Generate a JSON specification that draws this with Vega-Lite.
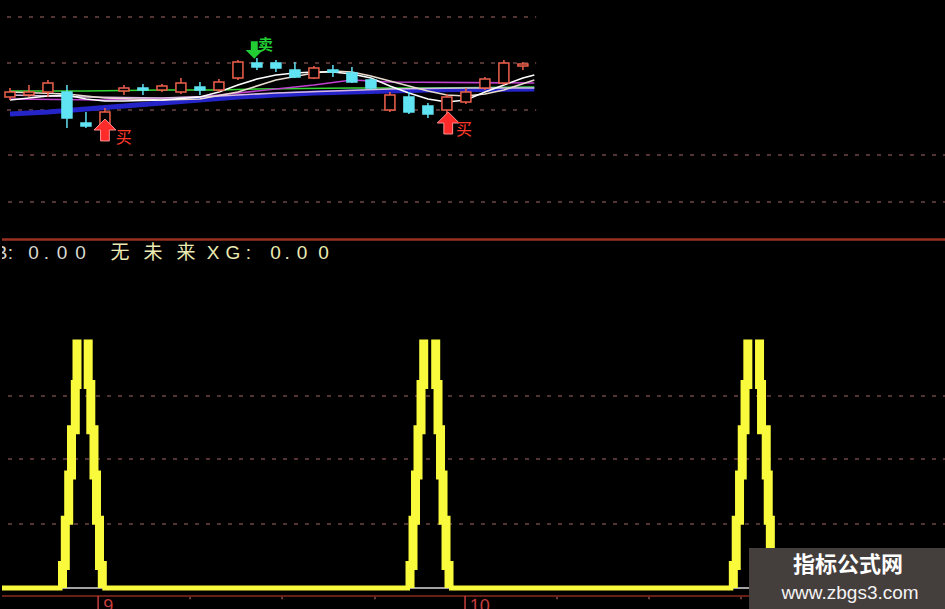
{
  "$schema": "https://vega.github.io/schema/vega-lite/v6.json",
  "background": "#000000",
  "padding": 0,
  "spacing": 0,
  "config": {"view": {"stroke": null}},
  "datasets": {
    "k": [
      {"d": 0, "o": 9.43, "h": 9.52, "l": 9.40, "c": 9.48},
      {"d": 1, "o": 9.45, "h": 9.55, "l": 9.43, "c": 9.48},
      {"d": 2, "o": 9.48, "h": 9.60, "l": 9.43, "c": 9.57},
      {"d": 3, "o": 9.48, "h": 9.55, "l": 9.12, "c": 9.22},
      {"d": 4, "o": 9.17, "h": 9.28, "l": 9.12, "c": 9.14},
      {"d": 5, "o": 9.12, "h": 9.32, "l": 9.10, "c": 9.28},
      {"d": 6, "o": 9.49, "h": 9.55, "l": 9.45, "c": 9.52},
      {"d": 7, "o": 9.52, "h": 9.56, "l": 9.45, "c": 9.50},
      {"d": 8, "o": 9.50, "h": 9.56, "l": 9.48, "c": 9.54},
      {"d": 9, "o": 9.48, "h": 9.62, "l": 9.46, "c": 9.57},
      {"d": 10, "o": 9.53, "h": 9.58, "l": 9.45, "c": 9.50},
      {"d": 11, "o": 9.50, "h": 9.61, "l": 9.48, "c": 9.58},
      {"d": 12, "o": 9.62, "h": 9.80, "l": 9.60, "c": 9.78},
      {"d": 13, "o": 9.77, "h": 9.82, "l": 9.70, "c": 9.73},
      {"d": 14, "o": 9.77, "h": 9.80, "l": 9.68, "c": 9.72},
      {"d": 15, "o": 9.70, "h": 9.78, "l": 9.62, "c": 9.63},
      {"d": 16, "o": 9.62, "h": 9.74, "l": 9.61, "c": 9.72},
      {"d": 17, "o": 9.70, "h": 9.75, "l": 9.63, "c": 9.68},
      {"d": 18, "o": 9.67, "h": 9.73, "l": 9.57, "c": 9.58},
      {"d": 19, "o": 9.60, "h": 9.62, "l": 9.50, "c": 9.52},
      {"d": 20, "o": 9.30, "h": 9.48, "l": 9.28, "c": 9.45},
      {"d": 21, "o": 9.43, "h": 9.48, "l": 9.26, "c": 9.28},
      {"d": 22, "o": 9.34, "h": 9.37, "l": 9.22, "c": 9.26},
      {"d": 23, "o": 9.30, "h": 9.46, "l": 9.25, "c": 9.43},
      {"d": 24, "o": 9.38, "h": 9.52, "l": 9.36, "c": 9.48},
      {"d": 25, "o": 9.52, "h": 9.63, "l": 9.50, "c": 9.61},
      {"d": 26, "o": 9.57, "h": 9.80, "l": 9.55, "c": 9.77},
      {"d": 27, "o": 9.74, "h": 9.78, "l": 9.70, "c": 9.76}
    ],
    "ma": [
      {"m": "blue", "d": 0, "p": 9.26}, {"m": "blue", "d": 2, "p": 9.28}, {"m": "blue", "d": 4, "p": 9.31},
      {"m": "blue", "d": 6, "p": 9.34}, {"m": "blue", "d": 8, "p": 9.37}, {"m": "blue", "d": 10, "p": 9.40},
      {"m": "blue", "d": 12, "p": 9.43}, {"m": "blue", "d": 14, "p": 9.45}, {"m": "blue", "d": 16, "p": 9.47},
      {"m": "blue", "d": 18, "p": 9.48}, {"m": "blue", "d": 20, "p": 9.49}, {"m": "blue", "d": 22, "p": 9.50},
      {"m": "blue", "d": 24, "p": 9.505}, {"m": "blue", "d": 27.6, "p": 9.51},
      {"m": "green", "d": 0, "p": 9.49}, {"m": "green", "d": 4, "p": 9.49}, {"m": "green", "d": 8, "p": 9.50},
      {"m": "green", "d": 11, "p": 9.50}, {"m": "green", "d": 13, "p": 9.51}, {"m": "green", "d": 18, "p": 9.52},
      {"m": "green", "d": 22, "p": 9.52}, {"m": "green", "d": 27.6, "p": 9.53},
      {"m": "magenta", "d": 0, "p": 9.41}, {"m": "magenta", "d": 5, "p": 9.40}, {"m": "magenta", "d": 10, "p": 9.43},
      {"m": "magenta", "d": 13, "p": 9.49}, {"m": "magenta", "d": 16, "p": 9.55}, {"m": "magenta", "d": 18, "p": 9.60},
      {"m": "magenta", "d": 20, "p": 9.58}, {"m": "magenta", "d": 27.6, "p": 9.57},
      {"m": "pink", "d": 0, "p": 9.45}, {"m": "pink", "d": 4, "p": 9.43}, {"m": "pink", "d": 8, "p": 9.42},
      {"m": "pink", "d": 11, "p": 9.44}, {"m": "pink", "d": 14, "p": 9.47}, {"m": "pink", "d": 17, "p": 9.49},
      {"m": "pink", "d": 20, "p": 9.51}, {"m": "pink", "d": 24, "p": 9.52}, {"m": "pink", "d": 27.6, "p": 9.52},
      {"m": "ma10", "d": 0, "p": 9.48}, {"m": "ma10", "d": 3, "p": 9.46}, {"m": "ma10", "d": 5, "p": 9.42},
      {"m": "ma10", "d": 8, "p": 9.40}, {"m": "ma10", "d": 10, "p": 9.41}, {"m": "ma10", "d": 12, "p": 9.48},
      {"m": "ma10", "d": 14, "p": 9.60}, {"m": "ma10", "d": 16, "p": 9.67}, {"m": "ma10", "d": 17, "p": 9.69},
      {"m": "ma10", "d": 18, "p": 9.68}, {"m": "ma10", "d": 19, "p": 9.64}, {"m": "ma10", "d": 20, "p": 9.59},
      {"m": "ma10", "d": 21, "p": 9.54}, {"m": "ma10", "d": 22, "p": 9.49}, {"m": "ma10", "d": 23, "p": 9.45},
      {"m": "ma10", "d": 24, "p": 9.44}, {"m": "ma10", "d": 25, "p": 9.46}, {"m": "ma10", "d": 26, "p": 9.50},
      {"m": "ma10", "d": 27.6, "p": 9.60},
      {"m": "ma5", "d": 0, "p": 9.40}, {"m": "ma5", "d": 2, "p": 9.44}, {"m": "ma5", "d": 3, "p": 9.45},
      {"m": "ma5", "d": 4, "p": 9.41}, {"m": "ma5", "d": 5, "p": 9.39}, {"m": "ma5", "d": 6, "p": 9.39},
      {"m": "ma5", "d": 8, "p": 9.40}, {"m": "ma5", "d": 10, "p": 9.43}, {"m": "ma5", "d": 11, "p": 9.48},
      {"m": "ma5", "d": 12, "p": 9.55}, {"m": "ma5", "d": 13, "p": 9.61}, {"m": "ma5", "d": 14, "p": 9.65},
      {"m": "ma5", "d": 15, "p": 9.67}, {"m": "ma5", "d": 16, "p": 9.68}, {"m": "ma5", "d": 17, "p": 9.68},
      {"m": "ma5", "d": 18, "p": 9.66}, {"m": "ma5", "d": 19, "p": 9.62}, {"m": "ma5", "d": 20, "p": 9.54},
      {"m": "ma5", "d": 21, "p": 9.47}, {"m": "ma5", "d": 22, "p": 9.41}, {"m": "ma5", "d": 23, "p": 9.38},
      {"m": "ma5", "d": 24, "p": 9.40}, {"m": "ma5", "d": 25, "p": 9.48}, {"m": "ma5", "d": 26, "p": 9.55},
      {"m": "ma5", "d": 27, "p": 9.62}, {"m": "ma5", "d": 27.6, "p": 9.65}
    ],
    "spikes": [
      {"sid": "1L", "k": 0, "d": 2.995, "v": 0}, {"sid": "1L", "k": 1, "d": 3.141, "v": 1}, {"sid": "1L", "k": 2, "d": 3.318, "v": 3},
      {"sid": "1L", "k": 3, "d": 3.464, "v": 5}, {"sid": "1L", "k": 4, "d": 3.661, "v": 7}, {"sid": "1L", "k": 5, "d": 3.75, "v": 9},
      {"sid": "1L", "k": 6, "d": 3.75, "v": 11},
      {"sid": "1R", "k": 0, "d": 4.333, "v": 11}, {"sid": "1R", "k": 1, "d": 4.469, "v": 9}, {"sid": "1R", "k": 2, "d": 4.635, "v": 7},
      {"sid": "1R", "k": 3, "d": 4.766, "v": 5}, {"sid": "1R", "k": 4, "d": 4.922, "v": 3}, {"sid": "1R", "k": 5, "d": 5.068, "v": 1},
      {"sid": "1R", "k": 6, "d": 5.068, "v": 0},
      {"sid": "2L", "k": 0, "d": 21.094, "v": 0}, {"sid": "2L", "k": 1, "d": 21.25, "v": 1}, {"sid": "2L", "k": 2, "d": 21.38, "v": 3},
      {"sid": "2L", "k": 3, "d": 21.51, "v": 5}, {"sid": "2L", "k": 4, "d": 21.667, "v": 7}, {"sid": "2L", "k": 5, "d": 21.807, "v": 9},
      {"sid": "2L", "k": 6, "d": 21.807, "v": 11},
      {"sid": "2R", "k": 0, "d": 22.432, "v": 11}, {"sid": "2R", "k": 1, "d": 22.552, "v": 9}, {"sid": "2R", "k": 2, "d": 22.682, "v": 7},
      {"sid": "2R", "k": 3, "d": 22.813, "v": 5}, {"sid": "2R", "k": 4, "d": 22.969, "v": 3}, {"sid": "2R", "k": 5, "d": 23.125, "v": 1},
      {"sid": "2R", "k": 6, "d": 23.125, "v": 0},
      {"sid": "3L", "k": 0, "d": 37.932, "v": 0}, {"sid": "3L", "k": 1, "d": 38.083, "v": 1}, {"sid": "3L", "k": 2, "d": 38.255, "v": 3},
      {"sid": "3L", "k": 3, "d": 38.396, "v": 5}, {"sid": "3L", "k": 4, "d": 38.542, "v": 7}, {"sid": "3L", "k": 5, "d": 38.688, "v": 9},
      {"sid": "3L", "k": 6, "d": 38.688, "v": 11},
      {"sid": "3R", "k": 0, "d": 39.297, "v": 11}, {"sid": "3R", "k": 1, "d": 39.401, "v": 9}, {"sid": "3R", "k": 2, "d": 39.646, "v": 7},
      {"sid": "3R", "k": 3, "d": 39.75, "v": 5}, {"sid": "3R", "k": 4, "d": 39.859, "v": 3}, {"sid": "3R", "k": 5, "d": 40.0, "v": 1},
      {"sid": "3R", "k": 6, "d": 40.0, "v": 0}
    ],
    "hdr": [
      {"g": 1, "d": -0.208, "ch": "B"}, {"g": 1, "d": 0.286, "ch": ":"},
      {"g": 1, "d": 1.484, "ch": "0"}, {"g": 1, "d": 2.161, "ch": "."}, {"g": 1, "d": 2.969, "ch": "0"}, {"g": 1, "d": 3.932, "ch": "0"},
      {"g": 2, "d": 5.99, "ch": "无"}, {"g": 2, "d": 7.708, "ch": "未"}, {"g": 2, "d": 9.427, "ch": "来"},
      {"g": 2, "d": 10.833, "ch": "X"}, {"g": 2, "d": 11.875, "ch": "G"}, {"g": 2, "d": 12.682, "ch": ":"},
      {"g": 2, "d": 14.089, "ch": "0"}, {"g": 2, "d": 14.688, "ch": "."}, {"g": 2, "d": 15.469, "ch": "0"}, {"g": 2, "d": 16.589, "ch": "0"}
    ]
  },
  "vconcat": [
    {
      "width": 945,
      "height": 240,
      "layer": [
        {
          "data": {"values": [{"p": 10.23}, {"p": 9.77}, {"p": 9.30}]},
          "mark": {"type": "rule", "color": "#6e4646", "strokeWidth": 1.5, "strokeDash": [4, 7]},
          "encoding": {
            "y": {"field": "p", "type": "quantitative", "scale": {"domain": [8.0, 10.4], "nice": false, "zero": false}, "axis": null},
            "x": {"datum": -0.156, "type": "quantitative", "scale": {"domain": [-0.156, 49.06], "nice": false, "zero": false}, "axis": null},
            "x2": {"datum": 27.7}
          }
        },
        {
          "data": {"values": [{"p": 8.85}, {"p": 8.38}]},
          "mark": {"type": "rule", "color": "#6e4646", "strokeWidth": 1.5, "strokeDash": [4, 7]},
          "encoding": {
            "y": {"field": "p", "type": "quantitative", "scale": {"domain": [8.0, 10.4], "nice": false, "zero": false}, "axis": null}
          }
        },
        {
          "data": {"name": "ma"},
          "transform": [{"filter": "datum.m == 'blue'"}],
          "mark": {"type": "line", "color": "#2424c8", "strokeWidth": 5, "clip": true},
          "encoding": {
            "x": {"field": "d", "type": "quantitative", "scale": {"domain": [-0.156, 49.06], "nice": false, "zero": false}, "axis": null},
            "y": {"field": "p", "type": "quantitative", "scale": {"domain": [8.0, 10.4], "nice": false, "zero": false}, "axis": null}
          }
        },
        {
          "data": {"name": "ma"},
          "transform": [{"filter": "datum.m != 'blue'"}],
          "mark": {"type": "line", "strokeWidth": 1.6, "clip": true},
          "encoding": {
            "x": {"field": "d", "type": "quantitative", "scale": {"domain": [-0.156, 49.06], "nice": false, "zero": false}, "axis": null},
            "y": {"field": "p", "type": "quantitative", "scale": {"domain": [8.0, 10.4], "nice": false, "zero": false}, "axis": null},
            "color": {"field": "m", "type": "nominal", "legend": null,
              "scale": {"domain": ["green", "magenta", "pink", "ma10", "ma5"], "range": ["#34d834", "#c040d0", "#d8b8e0", "#e8dcd0", "#ffffff"]}}
          }
        },
        {
          "data": {"name": "k"},
          "mark": {"type": "rule", "strokeWidth": 1.5, "clip": true},
          "encoding": {
            "x": {"field": "d", "type": "quantitative", "scale": {"domain": [-0.156, 49.06], "nice": false, "zero": false}, "axis": null},
            "y": {"field": "l", "type": "quantitative", "scale": {"domain": [8.0, 10.4], "nice": false, "zero": false}, "axis": null},
            "y2": {"field": "h"},
            "color": {"condition": {"test": "datum.c >= datum.o", "value": "#f0604c"}, "value": "#60e4f4"}
          }
        },
        {
          "data": {"name": "k"},
          "mark": {"type": "bar", "size": 10, "strokeWidth": 1.5, "orient": "vertical", "clip": true},
          "encoding": {
            "x": {"field": "d", "type": "quantitative", "scale": {"domain": [-0.156, 49.06], "nice": false, "zero": false}, "axis": null},
            "y": {"field": "o", "type": "quantitative", "scale": {"domain": [8.0, 10.4], "nice": false, "zero": false}, "axis": null},
            "y2": {"field": "c"},
            "fill": {"condition": {"test": "datum.c >= datum.o", "value": "#000000"}, "value": "#60e4f4"},
            "stroke": {"condition": {"test": "datum.c >= datum.o", "value": "#f0604c"}, "value": "#60e4f4"}
          }
        },
        {
          "data": {"values": [{"d": 5.0, "p": 9.10}, {"d": 23.07, "p": 9.17}]},
          "mark": {"type": "point", "shape": "M0,-1L1,0L0.4,0L0.4,1L-0.4,1L-0.4,0L-1,0Z", "size": 480, "filled": true, "color": "#ff2a2a", "stroke": "#ff9090", "strokeWidth": 1, "opacity": 1},
          "encoding": {
            "x": {"field": "d", "type": "quantitative", "scale": {"domain": [-0.156, 49.06], "nice": false, "zero": false}, "axis": null},
            "y": {"field": "p", "type": "quantitative", "scale": {"domain": [8.0, 10.4], "nice": false, "zero": false}, "axis": null}
          }
        },
        {
          "data": {"values": [{"d": 5.99, "p": 9.02, "t": "买"}, {"d": 23.9, "p": 9.10, "t": "买"}]},
          "mark": {"type": "text", "color": "#ff3a2a", "fontSize": 16, "font": "Noto Sans CJK SC", "align": "center", "baseline": "middle"},
          "encoding": {
            "x": {"field": "d", "type": "quantitative", "scale": {"domain": [-0.156, 49.06], "nice": false, "zero": false}, "axis": null},
            "y": {"field": "p", "type": "quantitative", "scale": {"domain": [8.0, 10.4], "nice": false, "zero": false}, "axis": null},
            "text": {"field": "t"}
          }
        },
        {
          "data": {"values": [{"d": 12.86, "p": 9.90}]},
          "mark": {"type": "point", "shape": "M0,1L1,0L0.4,0L0.4,-1L-0.4,-1L-0.4,0L-1,0Z", "size": 300, "filled": true, "color": "#22cc33", "opacity": 1},
          "encoding": {
            "x": {"field": "d", "type": "quantitative", "scale": {"domain": [-0.156, 49.06], "nice": false, "zero": false}, "axis": null},
            "y": {"field": "p", "type": "quantitative", "scale": {"domain": [8.0, 10.4], "nice": false, "zero": false}, "axis": null}
          }
        },
        {
          "data": {"values": [{"d": 13.45, "p": 9.95, "t": "卖"}]},
          "mark": {"type": "text", "color": "#22cc33", "fontSize": 15, "fontWeight": "bold", "font": "Noto Sans CJK SC", "align": "center", "baseline": "middle"},
          "encoding": {
            "x": {"field": "d", "type": "quantitative", "scale": {"domain": [-0.156, 49.06], "nice": false, "zero": false}, "axis": null},
            "y": {"field": "p", "type": "quantitative", "scale": {"domain": [8.0, 10.4], "nice": false, "zero": false}, "axis": null},
            "text": {"field": "t"}
          }
        },
        {
          "data": {"values": [{"p": 8.005}]},
          "mark": {"type": "rule", "color": "#9a3020", "strokeWidth": 2.5},
          "encoding": {
            "y": {"field": "p", "type": "quantitative", "scale": {"domain": [8.0, 10.4], "nice": false, "zero": false}, "axis": null}
          }
        }
      ]
    },
    {
      "width": 945,
      "height": 369,
      "layer": [
        {
          "data": {"values": [{"v": 8.5}, {"v": 5.71}, {"v": 2.83}]},
          "mark": {"type": "rule", "color": "#6e4646", "strokeWidth": 1.5, "strokeDash": [4, 7]},
          "encoding": {
            "y": {"field": "v", "type": "quantitative", "scale": {"domain": [-0.973, 15.354], "nice": false, "zero": false}, "axis": null}
          }
        },
        {
          "data": {"values": [{"v": 0}]},
          "mark": {"type": "rule", "color": "#d8d8d8", "strokeWidth": 1.5},
          "encoding": {
            "y": {"field": "v", "type": "quantitative", "scale": {"domain": [-0.973, 15.354], "nice": false, "zero": false}, "axis": null}
          }
        },
        {
          "data": {"values": [{"d": -0.156, "d2": 2.995}, {"d": 5.068, "d2": 21.094}, {"d": 23.125, "d2": 37.932}, {"d": 40.0, "d2": 49.06}]},
          "mark": {"type": "rule", "color": "#fafa3c", "strokeWidth": 5, "clip": true},
          "encoding": {
            "x": {"field": "d", "type": "quantitative", "scale": {"domain": [-0.156, 49.06], "nice": false, "zero": false}, "axis": null},
            "x2": {"field": "d2"},
            "y": {"datum": 0, "type": "quantitative", "scale": {"domain": [-0.973, 15.354], "nice": false, "zero": false}, "axis": null}
          }
        },
        {
          "data": {"name": "spikes"},
          "mark": {"type": "line", "color": "#fafa3c", "strokeWidth": 9, "interpolate": "step-before", "strokeCap": "butt", "clip": true},
          "encoding": {
            "x": {"field": "d", "type": "quantitative", "scale": {"domain": [-0.156, 49.06], "nice": false, "zero": false}, "axis": null},
            "y": {"field": "v", "type": "quantitative", "scale": {"domain": [-0.973, 15.354], "nice": false, "zero": false}, "axis": null},
            "detail": {"field": "sid"},
            "order": {"field": "k", "type": "quantitative"}
          }
        },
        {
          "data": {"values": [{"v": -0.354}]},
          "mark": {"type": "rule", "color": "#8c2a1e", "strokeWidth": 1.5},
          "encoding": {
            "y": {"field": "v", "type": "quantitative", "scale": {"domain": [-0.973, 15.354], "nice": false, "zero": false}, "axis": null}
          }
        },
        {
          "data": {"values": [{"d": 4.85}, {"d": 23.96}]},
          "mark": {"type": "rule", "color": "#c83c3c", "strokeWidth": 1.5, "clip": true},
          "encoding": {
            "x": {"field": "d", "type": "quantitative", "scale": {"domain": [-0.156, 49.06], "nice": false, "zero": false}, "axis": null},
            "y": {"datum": -0.354, "type": "quantitative", "scale": {"domain": [-0.973, 15.354], "nice": false, "zero": false}, "axis": null},
            "y2": {"datum": -0.973}
          }
        },
        {
          "data": {"values": [{"d": 9.64}, {"d": 14.43}, {"d": 19.27}, {"d": 28.75}, {"d": 33.54}, {"d": 38.33}, {"d": 43.1}, {"d": 47.9}]},
          "mark": {"type": "rule", "color": "#8a5050", "strokeWidth": 1.5},
          "encoding": {
            "x": {"field": "d", "type": "quantitative", "scale": {"domain": [-0.156, 49.06], "nice": false, "zero": false}, "axis": null},
            "y": {"datum": -0.4, "type": "quantitative", "scale": {"domain": [-0.973, 15.354], "nice": false, "zero": false}, "axis": null},
            "y2": {"datum": -0.5}
          }
        },
        {
          "data": {"values": [{"d": 5.12, "t": "9"}, {"d": 24.2, "t": "10"}]},
          "mark": {"type": "text", "color": "#c83c3c", "fontSize": 18, "font": "Liberation Sans", "align": "left", "baseline": "top", "clip": true},
          "encoding": {
            "x": {"field": "d", "type": "quantitative", "scale": {"domain": [-0.156, 49.06], "nice": false, "zero": false}, "axis": null},
            "y": {"datum": -0.42, "type": "quantitative", "scale": {"domain": [-0.973, 15.354], "nice": false, "zero": false}, "axis": null},
            "text": {"field": "t"}
          }
        },
        {
          "data": {"name": "hdr"},
          "mark": {"type": "text", "fontSize": 19, "font": "Liberation Sans, Noto Sans CJK SC", "align": "center", "baseline": "middle", "clip": true},
          "encoding": {
            "x": {"field": "d", "type": "quantitative", "scale": {"domain": [-0.156, 49.06], "nice": false, "zero": false}, "axis": null},
            "y": {"datum": 14.823, "type": "quantitative", "scale": {"domain": [-0.973, 15.354], "nice": false, "zero": false}, "axis": null},
            "text": {"field": "ch"},
            "color": {"condition": {"test": "datum.g == 1", "value": "#d8d8d0"}, "value": "#ecebb4"}
          }
        },
        {
          "data": {"values": [{"d": 38.75, "d2": 49.06, "v": 1.77, "v2": -0.973}]},
          "mark": {"type": "rect", "color": "#443e3c", "opacity": 1},
          "encoding": {
            "x": {"field": "d", "type": "quantitative", "scale": {"domain": [-0.156, 49.06], "nice": false, "zero": false}, "axis": null},
            "x2": {"field": "d2"},
            "y": {"field": "v", "type": "quantitative", "scale": {"domain": [-0.973, 15.354], "nice": false, "zero": false}, "axis": null},
            "y2": {"field": "v2"}
          }
        },
        {
          "data": {"values": [{"d": 43.91, "v": 1.018, "t": "指标公式网"}]},
          "mark": {"type": "text", "color": "#ffffff", "fontSize": 22, "fontWeight": "bold", "font": "Noto Sans CJK SC", "align": "center", "baseline": "middle"},
          "encoding": {
            "x": {"field": "d", "type": "quantitative", "scale": {"domain": [-0.156, 49.06], "nice": false, "zero": false}, "axis": null},
            "y": {"field": "v", "type": "quantitative", "scale": {"domain": [-0.973, 15.354], "nice": false, "zero": false}, "axis": null},
            "text": {"field": "t"}
          }
        },
        {
          "data": {"values": [{"d": 44.01, "v": -0.221, "t": "www.zbgs3.com"}]},
          "mark": {"type": "text", "color": "#f4f4f4", "fontSize": 19, "font": "Liberation Sans", "align": "center", "baseline": "middle"},
          "encoding": {
            "x": {"field": "d", "type": "quantitative", "scale": {"domain": [-0.156, 49.06], "nice": false, "zero": false}, "axis": null},
            "y": {"field": "v", "type": "quantitative", "scale": {"domain": [-0.973, 15.354], "nice": false, "zero": false}, "axis": null},
            "text": {"field": "t"}
          }
        }
      ]
    }
  ]
}
